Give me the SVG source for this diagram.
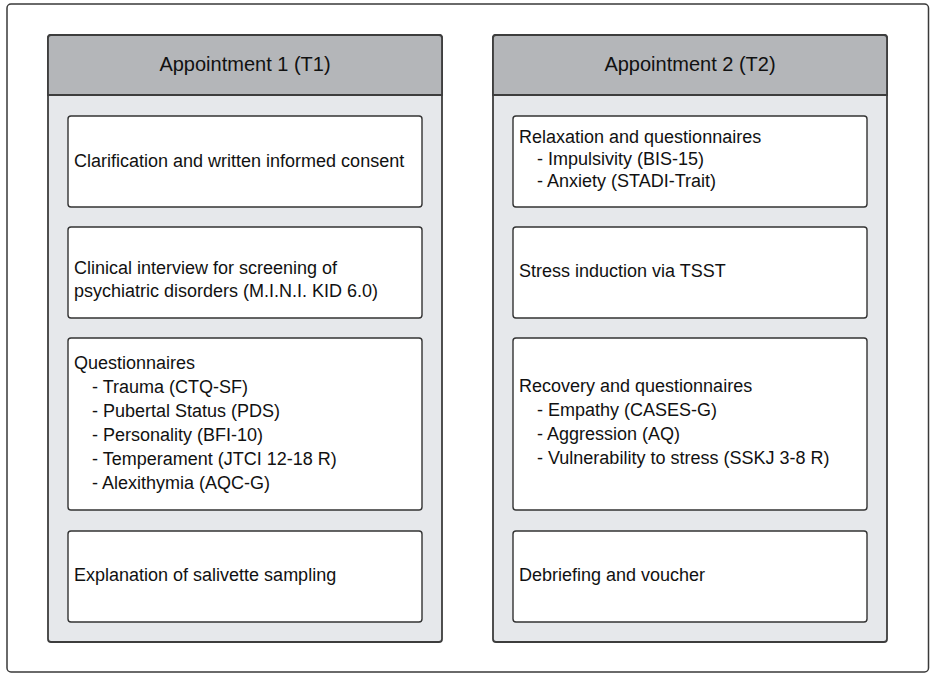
<svg xmlns="http://www.w3.org/2000/svg" width="936" height="677" viewBox="0 0 936 677">
<style>
  .frame{fill:#ffffff;stroke:#3a3a3a;stroke-width:1.5}
  .panel{fill:#e6e8eb;stroke:#3d3d3d;stroke-width:1.8}
  .head{fill:#b4b6b9;stroke:#3d3d3d;stroke-width:1.8}
  .box{fill:#ffffff;stroke:#333333;stroke-width:1.4}
  text{font-family:"Liberation Sans",Arial,sans-serif;fill:#111111}
  .ht{font-size:20px;text-anchor:middle}
  .bt{font-size:18px}
</style>
<rect class="frame" x="7" y="4" width="921.5" height="668" rx="4"/>
<g id="appointment1">
  <rect class="panel" x="48" y="35" width="394" height="607" rx="3"/>
  <path class="head" d="M48,95 V38 a3,3 0 0 1 3,-3 H439 a3,3 0 0 1 3,3 V95 Z"/>
  <text class="ht" x="245" y="71">Appointment 1 (T1)</text>
</g>
<g id="t1-consent">
  <rect class="box" x="68" y="116" width="354" height="91" rx="3"/>
  <text class="bt" x="74" y="167">Clarification and written informed consent</text>
</g>
<g id="t1-interview">
  <rect class="box" x="68" y="227" width="354" height="91" rx="3"/>
  <text class="bt" x="74" y="274">Clinical interview for screening of</text>
  <text class="bt" x="74" y="297">psychiatric disorders (M.I.N.I. KID 6.0)</text>
</g>
<g id="t1-questionnaires">
  <rect class="box" x="68" y="338" width="354" height="172" rx="3"/>
  <text class="bt" x="74" y="369">Questionnaires</text>
  <text class="bt" x="92" y="393">- Trauma (CTQ-SF)</text>
  <text class="bt" x="92" y="417">- Pubertal Status (PDS)</text>
  <text class="bt" x="92" y="441">- Personality (BFI-10)</text>
  <text class="bt" x="92" y="465">- Temperament (JTCI 12-18 R)</text>
  <text class="bt" x="92" y="489">- Alexithymia (AQC-G)</text>
</g>
<g id="t1-salivette">
  <rect class="box" x="68" y="531" width="354" height="91" rx="3"/>
  <text class="bt" x="74" y="581">Explanation of salivette sampling</text>
</g>
<g id="appointment2">
  <rect class="panel" x="493" y="35" width="394" height="607" rx="3"/>
  <path class="head" d="M493,95 V38 a3,3 0 0 1 3,-3 H884 a3,3 0 0 1 3,3 V95 Z"/>
  <text class="ht" x="690" y="71">Appointment 2 (T2)</text>
</g>
<g id="t2-relaxation">
  <rect class="box" x="513" y="116" width="354" height="91" rx="3"/>
  <text class="bt" x="519" y="143">Relaxation and questionnaires</text>
  <text class="bt" x="537" y="165">- Impulsivity (BIS-15)</text>
  <text class="bt" x="537" y="187">- Anxiety (STADI-Trait)</text>
</g>
<g id="t2-stress">
  <rect class="box" x="513" y="227" width="354" height="91" rx="3"/>
  <text class="bt" x="519" y="277">Stress induction via TSST</text>
</g>
<g id="t2-recovery">
  <rect class="box" x="513" y="338" width="354" height="172" rx="3"/>
  <text class="bt" x="519" y="392">Recovery and questionnaires</text>
  <text class="bt" x="537" y="416">- Empathy (CASES-G)</text>
  <text class="bt" x="537" y="440">- Aggression (AQ)</text>
  <text class="bt" x="537" y="464">- Vulnerability to stress (SSKJ 3-8 R)</text>
</g>
<g id="t2-debriefing">
  <rect class="box" x="513" y="531" width="354" height="91" rx="3"/>
  <text class="bt" x="519" y="581">Debriefing and voucher</text>
</g>
<g id="connectors"></g>
</svg>
